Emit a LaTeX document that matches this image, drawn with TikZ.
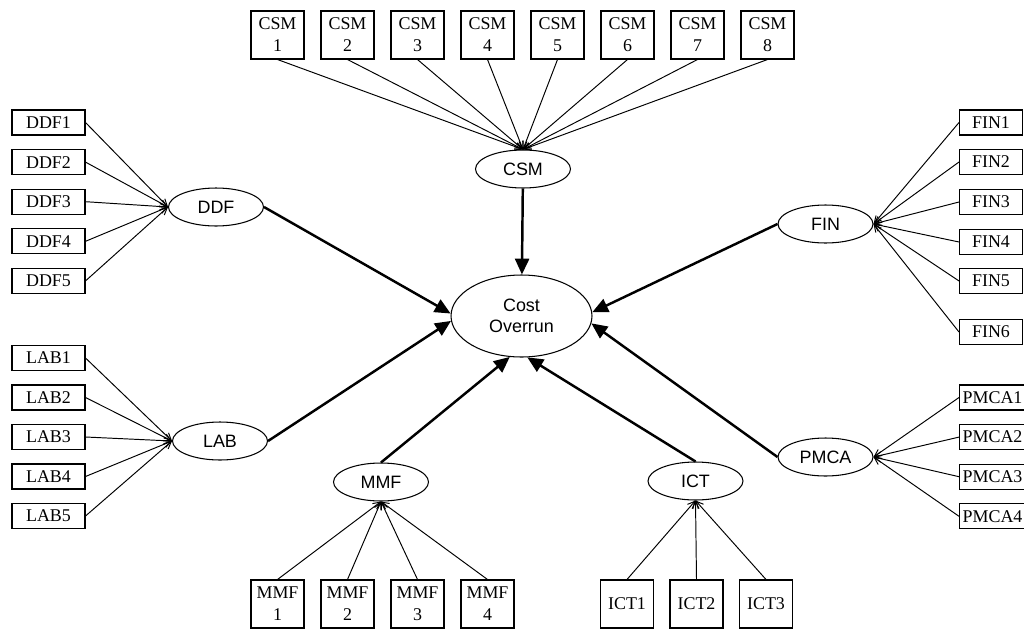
\documentclass[tikz,border=0pt]{standalone}
\usepackage{fontspec}
\setmainfont{Liberation Serif}
\setsansfont{Liberation Sans}
\usetikzlibrary{arrows.meta,shapes.geometric}
\tikzset{
  item/.style={draw=black, line width=0.6pt, minimum height=0.5cm, inner sep=0pt,
               font=\fontsize{10.2}{12.5}\selectfont},
  itemtall/.style={item, minimum width=1.06cm, minimum height=0.96cm, align=center},
  factor/.style={ellipse, draw=black, line width=0.6pt, minimum width=1.9cm,
                 minimum height=0.76cm, inner sep=0pt, font=\sffamily\fontsize{10.2}{12}\selectfont},
  load/.style={-{Straight Barb[length=4pt,width=4pt]}, line width=0.55pt},
  effect/.style={-{Triangle[length=9pt,width=8pt]}, line width=1.4pt}
}
\begin{document}
\begin{tikzpicture}[x=0.02cm,y=-0.02cm]
        \useasboundingbox (0,0) rectangle (1024,629);
        \node[factor,minimum width=2.82cm,minimum height=1.64cm,align=center] (co) at (521.5,316) {Cost\\Overrun};

        \node[factor] (csm) at (523,169) {CSM};
        \node[factor] (ddf) at (216,207) {DDF};
        \node[factor] (lab) at (220,441) {LAB};
        \node[factor] (fin) at (825.5,224) {FIN};
        \node[factor] (pmca) at (825.5,457) {PMCA};
        \node[factor] (mmf) at (381,482) {MMF};
        \node[factor] (ict) at (695.5,481) {ICT};

        \foreach \i in {1,...,8} {
          \node[itemtall] (csm\i) at ({277.5+70*(\i-1)},35) {CSM\\\i};
          \draw[load] (csm\i.south) -- (csm.north);
        }
        \foreach \i in {1,...,5} {
          \node[item,minimum width=1.46cm] (ddf\i) at (48.5,{122.5+39.6*(\i-1)}) {DDF\i};
          \draw[load] (ddf\i.east) -- (ddf.west);
          \node[item,minimum width=1.46cm] (lab\i) at (48.5,{358+39.5*(\i-1)}) {LAB\i};
          \draw[load] (lab\i.east) -- (lab.west);
        }
        \foreach \i/\y in {1/122.5,2/162,3/202,4/242,5/281,6/332} {
          \node[item,minimum width=1.26cm,anchor=west] (fin\i) at (959,\y) {FIN\i};
          \draw[load] (fin\i.west) -- (fin.east);
        }
        \foreach \i in {1,...,4} {
          \node[item,inner xsep=1.8pt,anchor=west] (pmca\i) at (959,{397.5+39.6*(\i-1)}) {PMCA\i};
          \draw[load] (pmca\i.west) -- (pmca.east);
        }
        \foreach \i in {1,...,4} {
          \node[itemtall] (mmf\i) at ({277.5+70*(\i-1)},604) {MMF\\\i};
          \draw[load] (mmf\i.north) -- (mmf.south);
        }
        \foreach \i in {1,...,3} {
          \node[itemtall] (ict\i) at ({627+69.5*(\i-1)},604) {ICT\i};
          \draw[load] (ict\i.north) -- (ict.south);
        }

        \draw[effect] (csm) -- (co);
        \draw[effect] (ddf.east) -- (co.178);
        \draw[effect] (lab.east) -- (co.184);
        \draw[effect] (fin.west) -- (co.3);
        \draw[effect] (pmca.west) -- (co.-6);
        \draw[effect] (mmf.north) -- (co.254);
        \draw[effect] (ict.north) -- (co.278);
\end{tikzpicture}
\end{document}
